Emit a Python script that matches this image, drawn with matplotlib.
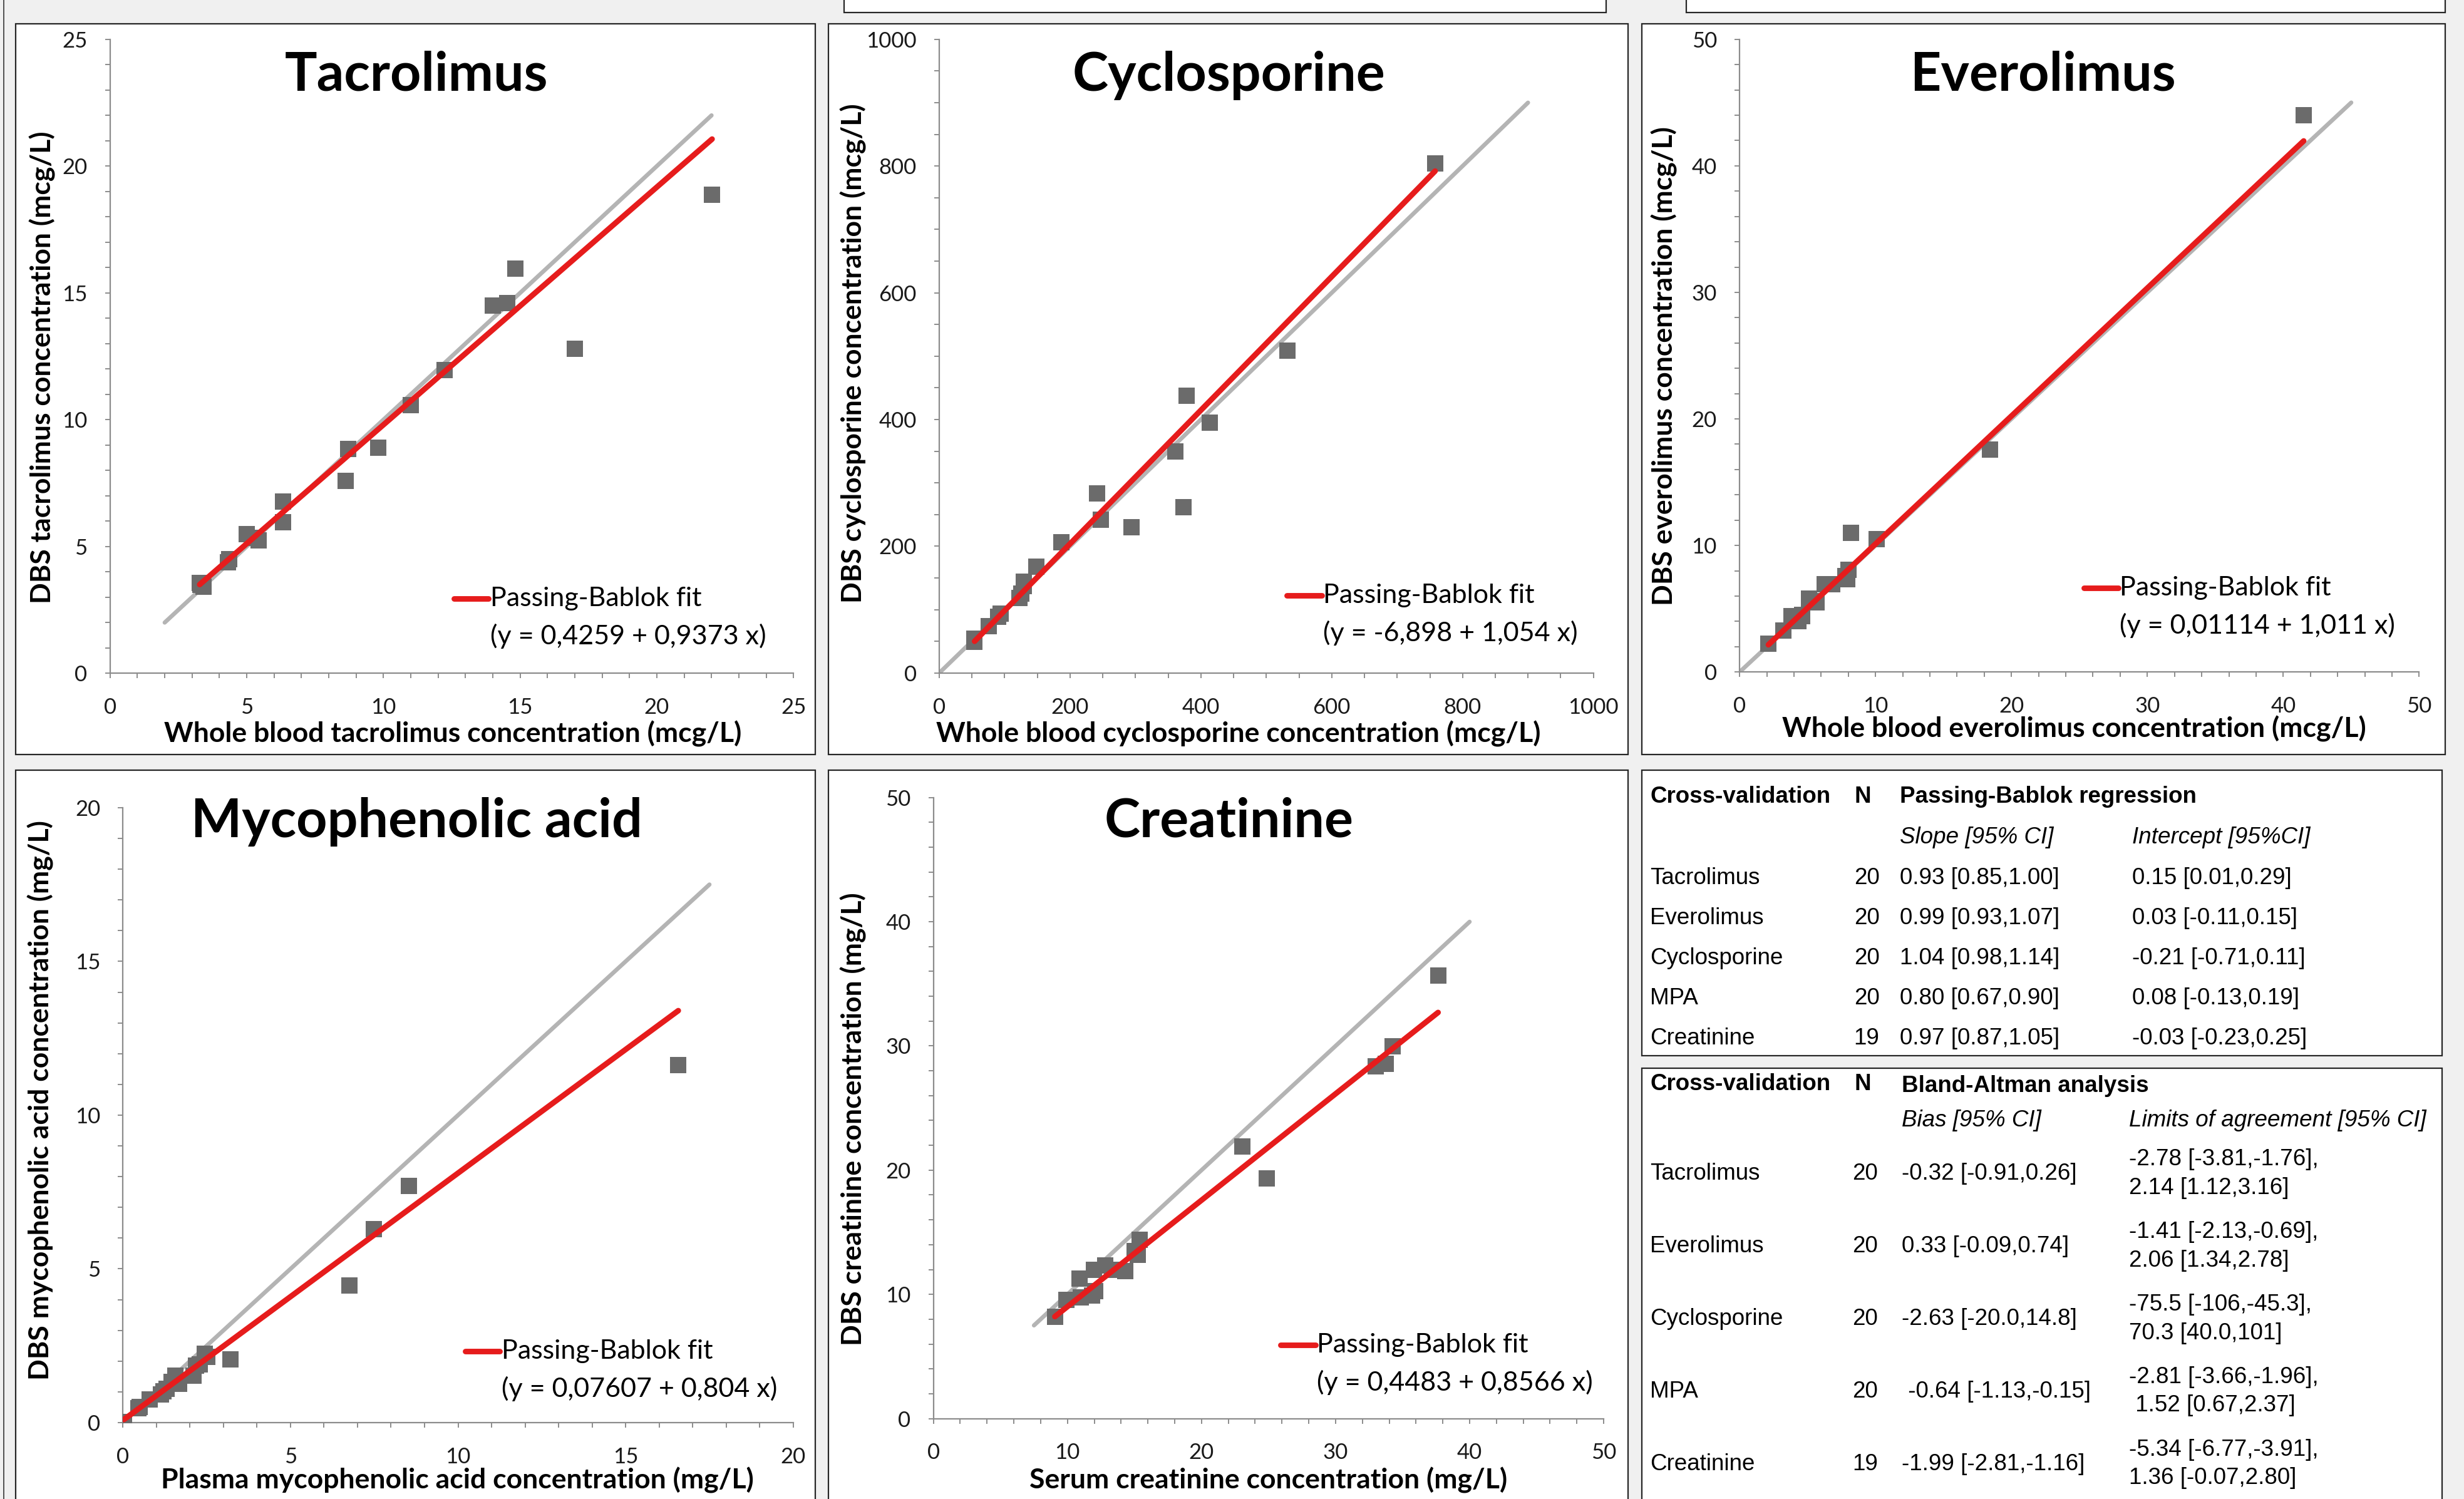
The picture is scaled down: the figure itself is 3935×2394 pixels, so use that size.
import matplotlib
matplotlib.use("Agg")
import matplotlib.pyplot as plt
from matplotlib.patches import Rectangle
from matplotlib.lines import Line2D
from matplotlib.ticker import MultipleLocator
import numpy as np

# ---- data ----
tac_x = [3.28, 3.41, 3.3, 4.32, 4.35, 5.01, 5.3, 5.43, 6.32, 6.32, 8.61, 8.71, 9.81, 11.0, 12.23, 14.0, 14.53, 14.82, 17.01, 22.02]
tac_y = [3.57, 3.42, 3.5, 4.38, 4.5, 5.49, 5.35, 5.24, 6.78, 5.95, 7.58, 8.85, 8.89, 10.58, 11.96, 14.51, 14.61, 15.95, 12.8, 18.87]

cyc_x = [54, 54, 76, 90, 94, 123, 125, 129, 129, 148, 187, 241, 247, 294, 361, 373, 378, 414, 532, 758]
cyc_y = [49, 54, 74, 89, 94, 118, 125, 137, 144, 168, 206, 283, 242, 230, 350, 262, 438, 395, 509, 804]

eve_x = [2.12, 3.24, 3.94, 4.32, 4.59, 4.2, 4.6, 3.8, 5.1, 5.68, 5.4, 6.25, 6.83, 7.9, 7.8, 8.03, 8.19, 10.1, 18.4, 41.5]
eve_y = [2.25, 3.27, 4.32, 4.02, 4.51, 4.0, 4.4, 4.4, 5.82, 5.52, 5.6, 6.95, 6.95, 7.33, 7.6, 8.08, 11.0, 10.5, 17.6, 44.0]

mpa_x = [0.03, 0.46, 0.5, 0.79, 1.13, 1.21, 1.3, 1.45, 1.57, 1.68, 2.1, 2.19, 2.3, 2.44, 2.52, 3.21, 6.75, 7.48, 8.54, 16.57]
mpa_y = [0.03, 0.46, 0.5, 0.76, 0.92, 1.02, 1.1, 1.33, 1.53, 1.27, 1.53, 1.86, 1.9, 2.24, 2.14, 2.06, 4.47, 6.29, 7.70, 11.62]

cre_x = [9.06, 9.91, 10.88, 11.0, 11.85, 11.97, 12.05, 12.82, 13.32, 14.29, 14.99, 15.26, 15.38, 23.04, 24.86, 33.0, 33.73, 34.24, 37.65]
cre_y = [8.19, 9.58, 11.28, 9.77, 9.89, 11.96, 10.26, 12.34, 11.96, 11.85, 13.47, 13.17, 14.38, 21.89, 19.36, 28.38, 28.57, 29.96, 35.66]

titles = ["Tacrolimus", "Cyclosporine", "Everolimus", "Mycophenolic acid", "Creatinine"]
xlabels = ["Whole blood tacrolimus concentration (mcg/L)",
           "Whole blood cyclosporine concentration (mcg/L)",
           "Whole blood everolimus concentration (mcg/L)",
           "Plasma mycophenolic acid concentration (mg/L)",
           "Serum creatinine concentration (mg/L)"]
ylabels = ["DBS tacrolimus concentration (mcg/L)",
           "DBS cyclosporine concentration (mcg/L)",
           "DBS everolimus concentration (mcg/L)",
           "DBS mycophenolic acid concentration (mg/L)",
           "DBS creatinine concentration (mg/L)"]
intercepts = [0.4259, -6.898, 0.01114, 0.07607, 0.4483]
slopes = [0.9373, 1.054, 1.011, 0.804, 0.8566]
fit_labels = ["(y = 0,4259 + 0,9373 x)", "(y = -6,898 + 1,054 x)", "(y = 0,01114 + 1,011 x)",
              "(y = 0,07607 + 0,804 x)", "(y = 0,4483 + 0,8566 x)"]
identity_ranges = [(2, 22), (0, 900), (0, 45), (0, 17.5), (7.5, 40)]

pb_names = ["Tacrolimus", "Everolimus", "Cyclosporine", "MPA", "Creatinine"]
pb_n = ["20", "20", "20", "20", "19"]
pb_slope = ["0.93 [0.85,1.00]", "0.99 [0.93,1.07]", "1.04 [0.98,1.14]", "0.80 [0.67,0.90]", "0.97 [0.87,1.05]"]
pb_icpt = ["0.15 [0.01,0.29]", "0.03 [-0.11,0.15]", "-0.21 [-0.71,0.11]", "0.08 [-0.13,0.19]", "-0.03 [-0.23,0.25]"]

ba_bias = ["-0.32 [-0.91,0.26]", "0.33 [-0.09,0.74]", "-2.63 [-20.0,14.8]", " -0.64 [-1.13,-0.15]", "-1.99 [-2.81,-1.16]"]
ba_loa = ["-2.78 [-3.81,-1.76],\n2.14 [1.12,3.16]", "-1.41 [-2.13,-0.69],\n2.06 [1.34,2.78]",
          "-75.5 [-106,-45.3],\n70.3 [40.0,101]", "-2.81 [-3.66,-1.96],\n 1.52 [0.67,2.37]",
          "-5.34 [-6.77,-3.91],\n1.36 [-0.07,2.80]"]

# ---- layout (reference pixels at 1568x954) ----
W, H = 1568, 954
def fx(x):
    return x / W
def fy(y):
    return 1 - y / H

fig = plt.figure(figsize=(39.35, 23.94), dpi=100, facecolor="#f0f0f0")

def box(x0, y0, x1, y1):
    r = Rectangle((fx(x0), fy(y1)), fx(x1) - fx(x0), (y1 - y0) / H, transform=fig.transFigure,
                  facecolor="white", edgecolor="#262626", lw=1.6, zorder=-1)
    fig.add_artist(r)

for b in [(10, 15, 519, 480), (527, 15, 1036, 480), (1045, 15, 1556, 480),
          (10, 490, 519, 970), (527, 490, 1036, 970),
          (1045, 490, 1554, 672), (1045, 680, 1554, 970),
          (537, -20, 1022, 8), (1073, -20, 1556, 8)]:
    box(*b)
fig.add_artist(Line2D([fx(2.5), fx(2.5)], [0, 1], transform=fig.transFigure, color="#333333", lw=1.2))

# axes rectangles, limits, tick steps
axes_px = [(70, 25, 505, 428.5), (597.7, 25, 1014, 428.3), (1107, 25, 1539.5, 427.7),
           (78.2, 514, 504.8, 905.4), (594, 507.6, 1020.5, 902.8)]
lims = [25, 1000, 50, 20, 50]
majors = [5, 200, 10, 5, 10]
minors = [1, 50, 2, 1, 2]
title_pos = [(265, 48), (782, 48), (1300, 48), (265, 523), (782, 523)]
xlab_pos = [(288, 467), (788, 467), (1320, 464), (291, 942), (807, 942)]
ylab_pos = [(27, 234), (543, 225), (1059, 233), (26, 700), (543, 712)]
leg_pos = [(289, 381), (819, 379), (1326, 374), (296, 860), (815, 856)]

datasets = [(tac_x, tac_y), (cyc_x, cyc_y), (eve_x, eve_y), (mpa_x, mpa_y), (cre_x, cre_y)]

PFONT = "Lato"
axis_gray = "#8c8c8c"
red = "#e61c1c"

for i, (xs, ys) in enumerate(datasets):
    x0, y0, x1, y1 = axes_px[i]
    ax = fig.add_axes([fx(x0), fy(y1), fx(x1) - fx(x0), (y1 - y0) / H])
    ax.patch.set_visible(False)
    ax.set_xlim(0, lims[i])
    ax.set_ylim(0, lims[i])
    for s in ["top", "right"]:
        ax.spines[s].set_visible(False)
    for s in ["left", "bottom"]:
        ax.spines[s].set_color(axis_gray)
        ax.spines[s].set_linewidth(1.6)
    ax.xaxis.set_major_locator(MultipleLocator(majors[i]))
    ax.yaxis.set_major_locator(MultipleLocator(majors[i]))
    ax.xaxis.set_minor_locator(MultipleLocator(minors[i]))
    ax.yaxis.set_minor_locator(MultipleLocator(minors[i]))
    ax.tick_params(which="both", length=6, width=1.4, color=axis_gray)
    ax.tick_params(axis="x", which="major", pad=22, labelsize=25)
    ax.tick_params(axis="y", which="major", pad=20, labelsize=25)
    for lab in ax.get_xticklabels() + ax.get_yticklabels():
        lab.set_fontfamily(PFONT)
        lab.set_color("#1a1a1a")

    lo, hi = identity_ranges[i]
    ax.plot([lo, hi], [lo, hi], color="#b4b4b4", lw=4.8, solid_capstyle="round", zorder=2)
    ax.scatter(xs, ys, marker="s", s=370, color="#6b6b6b", linewidths=0, zorder=3)
    fx_ = np.array([min(xs), max(xs)])
    ax.plot(fx_, intercepts[i] + slopes[i] * fx_, color=red, lw=6.4, solid_capstyle="round", zorder=4)

    fig.text(fx(title_pos[i][0]), fy(title_pos[i][1]), titles[i], ha="center", va="center",
             fontsize=62, fontweight="bold", family=PFONT)
    fig.text(fx(xlab_pos[i][0]), fy(xlab_pos[i][1]), xlabels[i], ha="center", va="center",
             fontsize=32, fontweight="bold", family=PFONT)
    fig.text(fx(ylab_pos[i][0]), fy(ylab_pos[i][1]), ylabels[i], ha="center", va="center",
             rotation=90, fontsize=32, fontweight="bold", family=PFONT)

    lx, ly = leg_pos[i]
    fig.add_artist(Line2D([fx(lx), fx(lx + 22)], [fy(ly), fy(ly)], transform=fig.transFigure,
                          color=red, lw=6.4, solid_capstyle="round"))
    fig.text(fx(lx + 23), fy(ly), "Passing-Bablok fit", ha="left", va="center", fontsize=31, family=PFONT)
    fig.text(fx(lx + 23), fy(ly + 24), fit_labels[i], ha="left", va="center", fontsize=31, family=PFONT)

# ---- tables ----
TF = "Liberation Sans"
TS = 26.5
def t(x, y, s, **kw):
    fig.text(fx(x), fy(y), s, va="center", fontsize=TS, family=TF, **kw)

t(1050, 507, "Cross-validation", fontweight="bold")
t(1180, 507, "N", fontweight="bold")
t(1209, 507, "Passing-Bablok regression", fontweight="bold")
t(1209, 533, "Slope [95% CI]", style="italic")
t(1357, 533, "Intercept [95%CI]", style="italic")
for k in range(5):
    yy = 559 + k * 25.5
    t(1050, yy, pb_names[k])
    t(1196, yy, pb_n[k], ha="right")
    t(1209, yy, pb_slope[k])
    t(1357, yy, pb_icpt[k])

t(1050, 690, "Cross-validation", fontweight="bold")
t(1180, 690, "N", fontweight="bold")
t(1210, 691, "Bland-Altman analysis", fontweight="bold")
t(1210, 713, "Bias [95% CI]", style="italic")
t(1355, 713, "Limits of agreement [95% CI]", style="italic")
for k in range(5):
    yy = 747 + k * 46.2
    t(1050, yy, pb_names[k])
    t(1195, yy, pb_n[k], ha="right")
    t(1210, yy, ba_bias[k])
    t(1355, yy, ba_loa[k], linespacing=1.38)

fig.savefig("out.png", dpi=100, facecolor=fig.get_facecolor())
